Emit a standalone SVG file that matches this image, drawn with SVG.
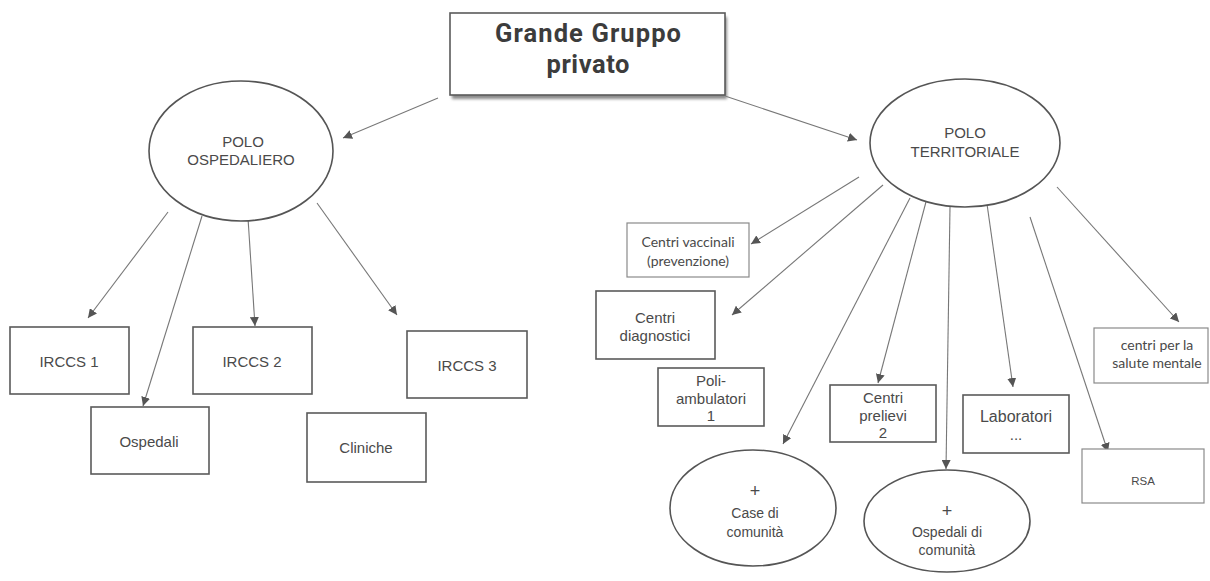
<svg xmlns="http://www.w3.org/2000/svg" width="1210" height="581" viewBox="0 0 1210 581">
  <style>
    .box { fill: #ffffff; stroke: #5a5a5a; stroke-width: 1.6; }
    .box-light { fill: #ffffff; stroke: #8a8a8a; stroke-width: 1.2; }
    .oval { fill: #ffffff; stroke: #555555; stroke-width: 1.6; }
    .t { font-family: "Liberation Sans", Arial, sans-serif; font-size: 15px; fill: #4a4a4a; text-anchor: middle; }
    .c { font-family: Lato, "Liberation Sans", sans-serif; font-size: 14px; fill: #4a4a4a; text-anchor: middle; }
    .title { font-family: Roboto, "Liberation Sans", Arial, sans-serif; font-size: 25.5px; font-weight: 700; fill: #3c3c3c; text-anchor: middle; }
    .link { stroke: #777777; stroke-width: 1.1; fill: none; marker-end: url(#tip); }
  </style>
  <defs>
    <marker id="tip" viewBox="0 0 10 10" refX="10" refY="5" markerWidth="9" markerHeight="9" markerUnits="userSpaceOnUse" orient="auto">
      <path d="M0,0 L10,5 L0,10 z" fill="#555555"/>
    </marker>
    <filter id="shadow" x="-10%" y="-10%" width="130%" height="140%">
      <feGaussianBlur stdDeviation="1.5"/>
    </filter>
  </defs>

  <!-- arrows between the nodes -->
  <g id="connectors">
    <line class="link" x1="438" y1="98" x2="343" y2="138"/>
    <line class="link" x1="725" y1="96" x2="857" y2="140"/>
    <line class="link" x1="168" y1="212" x2="88" y2="318"/>
    <line class="link" x1="202" y1="216" x2="143" y2="406"/>
    <line class="link" x1="248" y1="218" x2="255" y2="326"/>
    <line class="link" x1="317" y1="203" x2="397" y2="315"/>
    <line class="link" x1="859" y1="177" x2="751" y2="244"/>
    <line class="link" x1="883" y1="185" x2="732" y2="315"/>
    <line class="link" x1="910" y1="198" x2="783" y2="444"/>
    <line class="link" x1="927" y1="198" x2="878" y2="383"/>
    <line class="link" x1="950" y1="207" x2="946" y2="469"/>
    <line class="link" x1="986" y1="197" x2="1013" y2="387"/>
    <line class="link" x1="1030" y1="217" x2="1108" y2="452"/>
    <line class="link" x1="1057" y1="187" x2="1179" y2="322"/>
  </g>

  <g id="grande-gruppo">
    <rect x="452" y="17" width="275" height="82" fill="#8a8a8a" filter="url(#shadow)"/>
    <rect class="box" x="450" y="13" width="275" height="82"/>
    <text class="title" x="588" y="42" textLength="186" lengthAdjust="spacing">Grande Gruppo</text>
    <text class="title" x="588" y="73" textLength="83" lengthAdjust="spacing">privato</text>
  </g>

  <g id="polo-ospedaliero">
    <ellipse class="oval" cx="241" cy="151" rx="92" ry="70"/>
    <text class="t" x="243" y="147">POLO</text>
    <text class="t" x="241" y="165">OSPEDALIERO</text>
  </g>

  <g id="polo-territoriale">
    <ellipse class="oval" cx="965" cy="143" rx="95" ry="64"/>
    <text class="t" x="965" y="138">POLO</text>
    <text class="t" x="965" y="157">TERRITORIALE</text>
  </g>

  <g id="irccs-1">
    <rect class="box" x="10" y="327" width="119" height="67"/>
    <text class="t" x="69" y="367">IRCCS 1</text>
  </g>
  <g id="ospedali">
    <rect class="box" x="91" y="407" width="118" height="67"/>
    <text class="t" x="149" y="447">Ospedali</text>
  </g>
  <g id="irccs-2">
    <rect class="box" x="193" y="327" width="119" height="67"/>
    <text class="t" x="252" y="367">IRCCS 2</text>
  </g>
  <g id="irccs-3">
    <rect class="box" x="407" y="331" width="120" height="67"/>
    <text class="t" x="467" y="371">IRCCS 3</text>
  </g>
  <g id="cliniche">
    <rect class="box" x="307" y="413" width="119" height="69"/>
    <text class="t" x="366" y="453">Cliniche</text>
  </g>

  <g id="centri-vaccinali">
    <rect class="box-light" x="627" y="223" width="122" height="54"/>
    <text class="c" x="688" y="247">Centri vaccinali</text>
    <text class="c" x="688" y="266">(prevenzione)</text>
  </g>
  <g id="centri-diagnostici">
    <rect class="box" x="596" y="291" width="119" height="68"/>
    <text class="t" x="655" y="323">Centri</text>
    <text class="t" x="655" y="341">diagnostici</text>
  </g>
  <g id="poliambulatori">
    <rect class="box" x="658" y="368" width="106" height="58"/>
    <text class="t" x="711" y="386">Poli-</text>
    <text class="t" x="711" y="404">ambulatori</text>
    <text class="t" x="711" y="421">1</text>
  </g>
  <g id="centri-prelievi">
    <rect class="box" x="830" y="385" width="106" height="57"/>
    <text class="t" x="883" y="403">Centri</text>
    <text class="t" x="883" y="421">prelievi</text>
    <text class="t" x="883" y="438">2</text>
  </g>
  <g id="laboratori">
    <rect class="box" x="963" y="395" width="106" height="58"/>
    <text class="t" x="1016" y="422" style="font-size:16px">Laboratori</text>
    <text class="t" x="1016" y="440">...</text>
  </g>
  <g id="rsa">
    <rect class="box-light" x="1082" y="449" width="122" height="54"/>
    <text class="t" x="1143" y="485" style="font-size:11.5px">RSA</text>
  </g>
  <g id="salute-mentale">
    <rect class="box-light" x="1094" y="328" width="114" height="55"/>
    <text class="c" x="1157" y="350">centri per la</text>
    <text class="c" x="1157" y="368">salute mentale</text>
  </g>

  <g id="case-comunita">
    <ellipse class="oval" cx="753" cy="508" rx="83" ry="58"/>
    <text class="t" x="755" y="497" style="font-size:18px">+</text>
    <text class="t" x="755" y="518" style="font-size:14px">Case di</text>
    <text class="t" x="755" y="537" style="font-size:14px">comunità</text>
  </g>
  <g id="ospedali-comunita">
    <ellipse class="oval" cx="947" cy="521" rx="83" ry="51"/>
    <text class="t" x="947" y="517" style="font-size:18px">+</text>
    <text class="t" x="947" y="537" style="font-size:14px">Ospedali di</text>
    <text class="t" x="947" y="555" style="font-size:14px">comunità</text>
  </g>
</svg>
